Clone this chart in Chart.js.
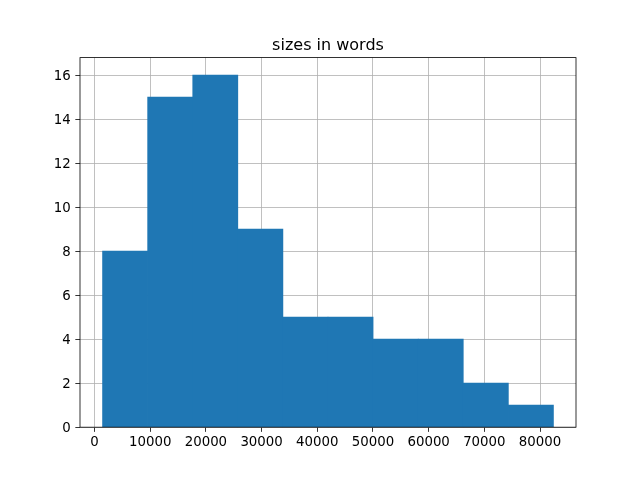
<!DOCTYPE html>
<html>
<head>
<meta charset="utf-8">
<script src="https://cdn.jsdelivr.net/npm/chart.js@4/dist/chart.umd.min.js"></script>
<style>
  html, body { margin: 0; padding: 0; background: #fff; }
</style>
</head>
<body>
<canvas id="hist" width="640" height="480"></canvas>
<script>
// histogram: bin edges and counts
const binEdges = [1444, 9541, 17638, 25734, 33831, 41928, 50025, 58122, 66219, 74316, 82410];
const counts = [8, 15, 16, 9, 5, 5, 4, 4, 2, 1];
const xTicks = [0, 10000, 20000, 30000, 40000, 50000, 60000, 70000, 80000];
const yTicks = [0, 2, 4, 6, 8, 10, 12, 14, 16];
const titleText = 'sizes in words';

const FONT = 'DejaVu Sans';
const BLUE = '#1f77b4';

// matplotlib-like 5% margins
const span = binEdges[binEdges.length - 1] - binEdges[0];
const xMin = binEdges[0] - span * 0.05;
const xMax = binEdges[binEdges.length - 1] + span * 0.05;
const yMax = Math.max(...counts) * 1.05;

const points = counts.map((c, i) => ({ x: (binEdges[i] + binEdges[i + 1]) / 2, y: c }));

// spines on all four sides + title above axes
const framePlugin = {
  id: 'frame',
  afterDraw(chart) {
    const { ctx, chartArea: a } = chart;
    ctx.save();
    ctx.strokeStyle = '#000';
    ctx.lineWidth = 0.8;
    ctx.strokeRect(a.left, a.top, a.right - a.left, a.bottom - a.top);
    ctx.fillStyle = '#000';
    ctx.font = '16px "' + FONT + '"';
    ctx.textAlign = 'center';
    ctx.textBaseline = 'alphabetic';
    ctx.fillText(titleText, (a.left + a.right) / 2, a.top - 8);
    ctx.restore();
  }
};

const tickFont = { family: FONT, size: 13.33 };

new Chart(document.getElementById('hist'), {
  type: 'bar',
  data: {
    datasets: [{
      data: points,
      backgroundColor: BLUE,
      borderWidth: 0,
      barPercentage: 1,
      categoryPercentage: 1
    }]
  },
  options: {
    responsive: false,
    animation: false,
    layout: { padding: { left: 0, top: 57.6, right: 64, bottom: 0 } },
    plugins: {
      legend: { display: false },
      title: { display: false },
      tooltip: { enabled: false }
    },
    scales: {
      x: {
        type: 'linear',
        min: xMin,
        max: xMax,
        offset: false,
        z: 1,
        afterBuildTicks: s => { s.ticks = xTicks.map(v => ({ value: v })); },
        afterFit: s => { s.height = 480 - 427.2; },
        grid: {
          offset: false,
          color: '#b0b0b0',
          lineWidth: 0.8,
          tickLength: 4.67,
          tickColor: '#000',
          tickWidth: 0.8
        },
        border: { display: false },
        ticks: {
          color: '#000',
          font: tickFont,
          padding: 3,
          maxRotation: 0,
          autoSkip: false,
          callback: v => String(v)
        }
      },
      y: {
        min: 0,
        max: yMax,
        z: 1,
        afterBuildTicks: s => { s.ticks = yTicks.map(v => ({ value: v })); },
        afterFit: s => { s.width = 80; },
        grid: {
          color: '#b0b0b0',
          lineWidth: 0.8,
          tickLength: 4.67,
          tickColor: '#000',
          tickWidth: 0.8
        },
        border: { display: false },
        ticks: {
          color: '#000',
          font: tickFont,
          padding: 4.67,
          labelOffset: 1,
          autoSkip: false,
          callback: v => String(v)
        }
      }
    }
  },
  plugins: [framePlugin]
});
</script>
</body>
</html>
